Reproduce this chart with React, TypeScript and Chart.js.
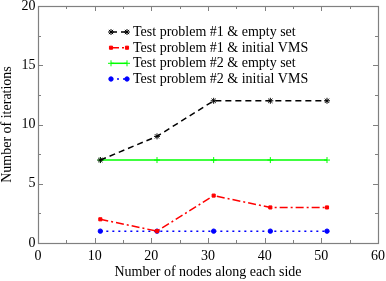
import React, { useEffect, useRef } from "react";
import { Chart, registerables } from "chart.js";
import { drawPoint } from "chart.js/helpers";

Chart.register(...registerables);

const nodes = [11, 21, 31, 41, 51];
const p1Empty = [7, 9, 12, 12, 12];
const p1Vms = [2, 1, 4, 3, 3];
const p2Empty = [7, 7, 7, 7, 7];
const p2Vms = [1, 1, 1, 1, 1];
const labels = [
  "Test problem #1 & empty set",
  "Test problem #1 & initial VMS",
  "Test problem #2 & empty set",
  "Test problem #2 & initial VMS",
];
const xTicks = [0, 10, 20, 30, 40, 50, 60];
const yTicks = [0, 5, 10, 15, 20];

const FONT = "'Liberation Serif', 'Times New Roman', serif";

const styles = [
  { color: "#000000", dash: [6, 4], point: "star", radius: 3 },
  { color: "#ff0000", dash: [8, 3, 2, 3], point: "rect", radius: 2.2 },
  { color: "#00ff00", dash: [], point: "cross", radius: 3 },
  { color: "#0000ff", dash: [2, 4], point: "circle", radius: 2.2 },
];

const frameAndTicks = {
  id: "frameAndTicks",
  afterDraw(chart: any) {
    const { ctx, chartArea: a, scales } = chart;
    const xs = scales.x;
    const ys = scales.y;
    ctx.save();
    ctx.strokeStyle = "#808080";
    ctx.lineWidth = 1;
    ctx.beginPath();
    for (let v = 0; v <= 60; v += 5) {
      const px = Math.round(xs.getPixelForValue(v)) + 0.5;
      const len = v % 10 === 0 ? 5 : 3;
      ctx.moveTo(px, a.bottom);
      ctx.lineTo(px, a.bottom - len);
      ctx.moveTo(px, a.top);
      ctx.lineTo(px, a.top + len);
    }
    for (let v = 0; v <= 20; v += 2.5) {
      const py = Math.round(ys.getPixelForValue(v)) + 0.5;
      const len = v % 5 === 0 ? 5 : 3;
      ctx.moveTo(a.left, py);
      ctx.lineTo(a.left + len, py);
      ctx.moveTo(a.right, py);
      ctx.lineTo(a.right - len, py);
    }
    ctx.stroke();
    ctx.lineWidth = 1.2;
    ctx.strokeRect(Math.round(a.left) + 0.5, Math.round(a.top) + 0.5, Math.round(a.right - a.left), Math.round(a.bottom - a.top));
    ctx.restore();
  },
};

const legendPlugin = {
  id: "customLegend",
  afterDatasetsDraw(chart: any) {
    const { ctx } = chart;
    const rows = [32, 47.7, 63.3, 79];
    ctx.save();
    ctx.font = `14px ${FONT}`;
    ctx.textBaseline = "middle";
    ctx.textAlign = "left";
    labels.forEach((t, i) => {
      const s = styles[i];
      const y = rows[i];
      ctx.strokeStyle = s.color;
      ctx.fillStyle = s.color;
      ctx.lineWidth = 1.5;
      ctx.setLineDash(s.dash);
      ctx.beginPath();
      ctx.moveTo(111, y);
      ctx.lineTo(127, y);
      ctx.stroke();
      ctx.setLineDash([]);
      ctx.lineWidth = 1;
      const opts = { pointStyle: s.point, radius: s.radius, borderWidth: 1, rotation: 0 };
      drawPoint(ctx, opts as any, 111, y);
      drawPoint(ctx, opts as any, 127, y);
      ctx.fillStyle = "#000";
      ctx.fillText(t, 133, y + 0.5);
    });
    ctx.restore();
  },
};

export default function App() {
  const ref = useRef<HTMLCanvasElement>(null);
  useEffect(() => {
    const series = [p1Empty, p1Vms, p2Empty, p2Vms];
    const chart = new Chart(ref.current!, {
      type: "scatter",
      data: {
        datasets: series.map((vals, i) => ({
          label: labels[i],
          data: nodes.map((n, j) => ({ x: n, y: vals[j] })),
          showLine: true,
          borderColor: styles[i].color,
          backgroundColor: styles[i].color,
          borderWidth: 1.5,
          borderDash: styles[i].dash,
          pointStyle: styles[i].point as any,
          pointRadius: styles[i].radius,
          pointBorderWidth: 1,
          pointBorderColor: styles[i].color,
          pointBackgroundColor: styles[i].color,
        })),
      },
      options: {
        animation: false,
        responsive: false,
        layout: { padding: { top: 6, right: 8, left: 0, bottom: 0 } },
        plugins: { legend: { display: false }, tooltip: { enabled: false } },
        scales: {
          x: {
            type: "linear",
            min: 0,
            max: 60,
            afterBuildTicks: (s: any) => {
              s.ticks = xTicks.map((v) => ({ value: v }));
            },
            afterFit: (s: any) => {
              s.height = 38;
              s.paddingLeft = 0;
              s.paddingRight = 0;
            },
            grid: { display: false, drawTicks: false },
            border: { display: false },
            ticks: { color: "#000", font: { family: FONT, size: 14 }, padding: 5, maxRotation: 0 },
            title: {
              display: true,
              text: "Number of nodes along each side",
              color: "#000",
              font: { family: FONT, size: 14, lineHeight: 1.2 },
              padding: { top: 0, bottom: 0 },
            },
          },
          y: {
            type: "linear",
            min: 0,
            max: 20,
            afterBuildTicks: (s: any) => {
              s.ticks = yTicks.map((v) => ({ value: v }));
            },
            afterFit: (s: any) => {
              s.width = 38;
              s.paddingTop = 0;
              s.paddingBottom = 0;
            },
            grid: { display: false, drawTicks: false },
            border: { display: false },
            ticks: { color: "#000", font: { family: FONT, size: 14 }, padding: 2.5 },
            title: {
              display: true,
              text: "Number of iterations",
              color: "#000",
              font: { family: FONT, size: 14, lineHeight: 1 },
              padding: 0,
            },
          },
        },
      },
      plugins: [frameAndTicks, legendPlugin],
    });
    return () => chart.destroy();
  }, []);
  return (
    <div style={{ position: "fixed", left: 0, top: 0, width: 386, height: 281, background: "#fff" }}>
      <canvas ref={ref} width={386} height={281} />
    </div>
  );
}
